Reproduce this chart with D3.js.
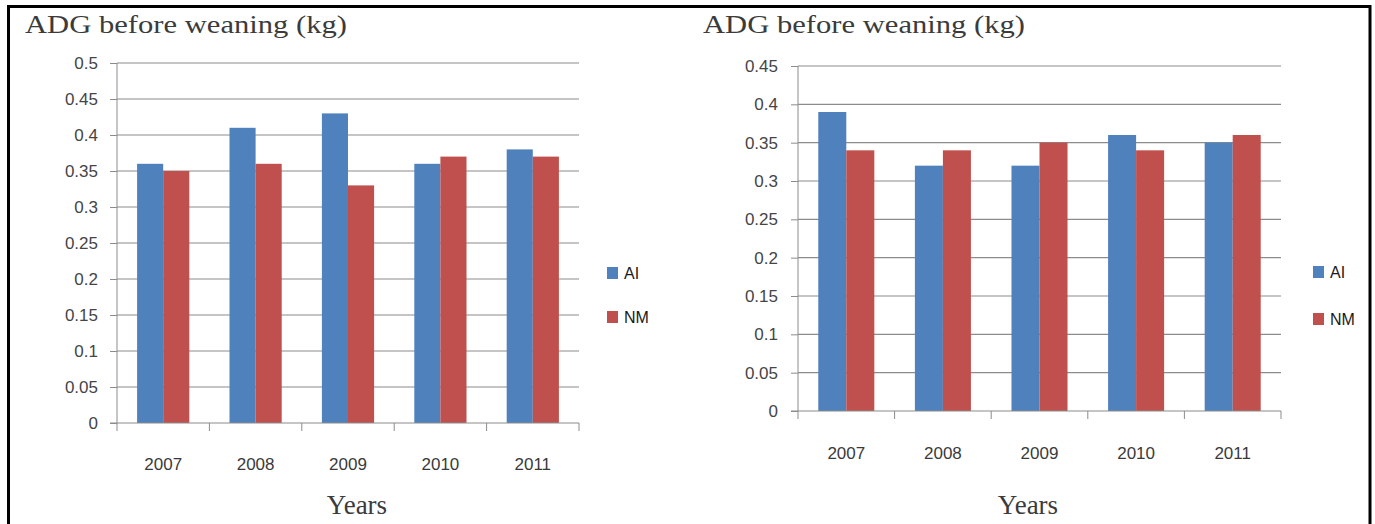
<!DOCTYPE html>
<html><head><meta charset="utf-8">
<script src="https://cdn.jsdelivr.net/npm/d3@7"></script>
<style>html,body{margin:0;padding:0;background:#fff;}</style>
</head><body>
<svg id="c" width="1375" height="524"></svg>
<script>
const years = ["2007","2008","2009","2010","2011"];
const seriesNames = ["AI","NM"];
const leftAI = [0.36,0.41,0.43,0.36,0.38];
const leftNM = [0.35,0.36,0.33,0.37,0.37];
const rightAI = [0.39,0.32,0.32,0.36,0.35];
const rightNM = [0.34,0.34,0.35,0.34,0.36];
const leftTicks = [0,0.05,0.1,0.15,0.2,0.25,0.3,0.35,0.4,0.45,0.5];
const rightTicks = [0,0.05,0.1,0.15,0.2,0.25,0.3,0.35,0.4,0.45];
const titleText = "ADG before weaning (kg)";
const xTitle = "Years";
const colors = {AI:"#4F81BD", NM:"#C0504D"};

const svg = d3.select("#c");
svg.append("rect").attr("x",8.5).attr("y",6.5).attr("width",1361.5).attr("height",600)
  .attr("fill","none").attr("stroke","#000").attr("stroke-width",3);

const tickFont = "'Liberation Sans Narrow','Liberation Sans',sans-serif";

function chart(o){
  const g = svg.append("g");
  const x = d3.scaleBand().domain(years).range([o.x0,o.x1]);
  const y = d3.scaleLinear().domain([0,o.max]).range([o.y0,o.y1]);
  const gw = x.bandwidth()*o.groupFrac;
  const xi = d3.scaleBand().domain(seriesNames).range([0,gw]);
  g.selectAll(".grid").data(o.ticks.slice(1)).join("line")
    .attr("x1",o.x0).attr("x2",o.x1).attr("y1",d=>y(d)).attr("y2",d=>y(d))
    .attr("stroke","#8c8c8c").attr("stroke-width",1.2);
  const ya = d3.axisLeft(y).tickValues(o.ticks).tickSize(7).tickPadding(o.pad).tickFormat(d=>String(d));
  const yg = g.append("g").attr("transform",`translate(${o.x0},0)`).call(ya);
  yg.select(".domain").attr("stroke","#8c8c8c").attr("d",`M-7,${o.y0}H0V${o.y1}`);
  yg.selectAll(".tick line").attr("stroke","#8c8c8c");
  yg.selectAll("text").attr("fill","#454545").style("font-family",tickFont).style("font-size","17px");
  const data = years.map((yr,i)=>({yr, vals:[{s:"AI",v:o.ai[i]},{s:"NM",v:o.nm[i]}]}));
  g.selectAll(".grp").data(data).join("g")
    .attr("transform",d=>`translate(${x(d.yr)+(x.bandwidth()-gw)/2},0)`)
    .selectAll("rect").data(d=>d.vals).join("rect")
    .attr("x",d=>xi(d.s)).attr("width",xi.bandwidth())
    .attr("y",d=>y(d.v)).attr("height",d=>y(0)-y(d.v))
    .attr("fill",d=>colors[d.s]);
  const xa = d3.axisBottom(x).tickSize(0).tickPadding(o.xpad);
  const xg = g.append("g").attr("transform",`translate(0,${o.y0})`).call(xa);
  xg.select(".domain").attr("stroke","#8c8c8c").attr("stroke-width",1.2).attr("d",`M${o.x0},0H${o.x1}`);
  xg.selectAll("text").attr("fill","#3a3a3a").style("font-family",tickFont).style("font-size","17px");
  const bounds = years.map(d=>x(d)).concat([o.x1]);
  g.selectAll(".xt").data(bounds).join("line")
    .attr("x1",d=>d).attr("x2",d=>d).attr("y1",o.y0).attr("y2",o.y0+8)
    .attr("stroke","#8c8c8c");
  g.append("text").attr("x",o.tx).attr("y",33).text(titleText)
    .attr("textLength",o.tlen).attr("lengthAdjust","spacingAndGlyphs")
    .style("font-family","'Liberation Serif','Times New Roman',serif").style("font-size","25px").attr("fill","#3b3b3b");
  g.append("text").attr("x",o.yx).attr("y",514).attr("text-anchor","middle").text(xTitle)
    .style("font-family","'Liberation Serif','Times New Roman',serif").style("font-size","27px").attr("fill","#3b3b3b");
  seriesNames.forEach((s,i)=>{
    g.append("rect").attr("x",o.lx).attr("y",o.ly+i*o.lgap).attr("width",11).attr("height",12).attr("fill",colors[s]);
    g.append("text").attr("x",o.lx+17).attr("y",o.ly+12+i*o.lgap).text(s)
      .style("font-family","'Liberation Sans',sans-serif").style("font-size","16px").attr("fill","#1a1a1a");
  });
}

chart({x0:117,x1:579,y0:423,y1:63,max:0.5,ticks:leftTicks,ai:leftAI,nm:leftNM,groupFrac:0.565,pad:12,xpad:35,
  tx:25,tlen:322,yx:357,lx:607,ly:267,lgap:44});
chart({x0:798,x1:1281,y0:411,y1:66,max:0.45,ticks:rightTicks,ai:rightAI,nm:rightNM,groupFrac:0.58,pad:13,xpad:36,
  tx:703,tlen:322,yx:1028,lx:1313,ly:266,lgap:47});
</script>
</body></html>
